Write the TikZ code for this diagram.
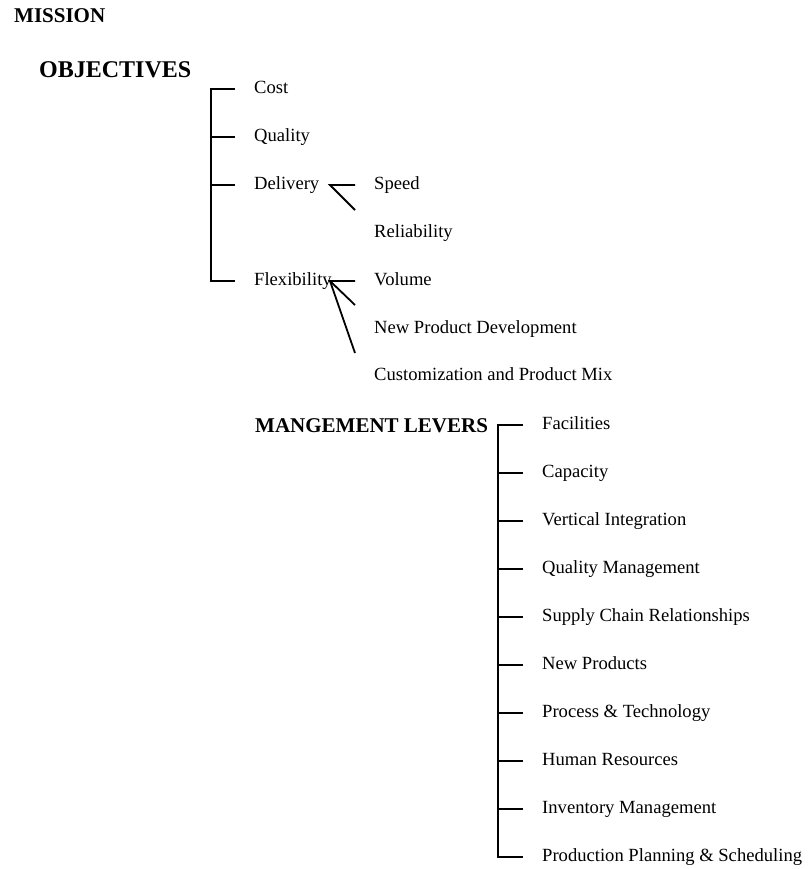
\documentclass[tikz,border=0pt]{standalone}
\usepackage{fontspec}
\setmainfont{Liberation Serif}
\usepackage{tikz}

\tikzset{
  item/.style={anchor=west, inner xsep=19pt, inner ysep=0pt,
    text height=13pt, text depth=4pt, font=\fontsize{18.6}{22}\selectfont},
  heading/.style={anchor=base west, inner sep=0pt,
    font=\bfseries\fontsize{#1}{#1}\selectfont},
  branch/.style={line width=1.8pt}
}

\begin{document}
\begin{tikzpicture}[x=1pt, y=-1pt]
  \useasboundingbox (0,0) rectangle (807,869);

  % headings
  \node[heading=21] (mission) at (14,23) {MISSION};
  \node[heading=24] (objectives) at (39,78) {OBJECTIVES};
  \node[heading=21] (levers) at (255,432) {MANGEMENT LEVERS};

  % objectives
  \node[item] (cost) at (235,89) {Cost};
  \node[item] (quality) at (235,137) {Quality};
  \node[item] (delivery) at (235,185) {Delivery};
  \node[item] (flexibility) at (235,281) {Flexibility};

  \draw[branch] (cost.west) -- ++(-24,0) |- (flexibility.west);
  \draw[branch] (quality.west) -- ++(-24,0);
  \draw[branch] (delivery.west) -- ++(-24,0);

  % delivery split
  \node[item] (speed) at (355,185) {Speed};
  \node[item] (reliability) at (355,233) {Reliability};
  \coordinate (deljoin) at (330,185);
  \draw[branch] (speed.west) -- (deljoin) -- ++(25,25);

  % flexibility split
  \node[item] (volume) at (355,281) {Volume};
  \node[item] (newprod) at (355,329) {New Product Development};
  \node[item] (custom) at (355,376) {Customization and Product Mix};
  \coordinate (flexjoin) at (330,281);
  \draw[branch] (volume.west) -- (flexjoin) -- ++(25,24);
  \draw[branch] (flexjoin) -- ++(25,72);

  % management levers
  \node[item] (facilities) at (523,425) {Facilities};
  \node[item] (capacity) at (523,473) {Capacity};
  \node[item] (vertical) at (523,521) {Vertical Integration};
  \node[item] (qualmgmt) at (523,569) {Quality Management};
  \node[item] (supply) at (523,617) {Supply Chain Relationships};
  \node[item] (newproducts) at (523,665) {New Products};
  \node[item] (process) at (523,713) {Process \& Technology};
  \node[item] (human) at (523,761) {Human Resources};
  \node[item] (inventory) at (523,809) {Inventory Management};
  \node[item] (planning) at (523,857) {Production Planning \& Scheduling};

  \draw[branch] (facilities.west) -- ++(-25,0) |- (planning.west);
  \draw[branch] (capacity.west) -- ++(-25,0);
  \draw[branch] (vertical.west) -- ++(-25,0);
  \draw[branch] (qualmgmt.west) -- ++(-25,0);
  \draw[branch] (supply.west) -- ++(-25,0);
  \draw[branch] (newproducts.west) -- ++(-25,0);
  \draw[branch] (process.west) -- ++(-25,0);
  \draw[branch] (human.west) -- ++(-25,0);
  \draw[branch] (inventory.west) -- ++(-25,0);
\end{tikzpicture}
\end{document}
